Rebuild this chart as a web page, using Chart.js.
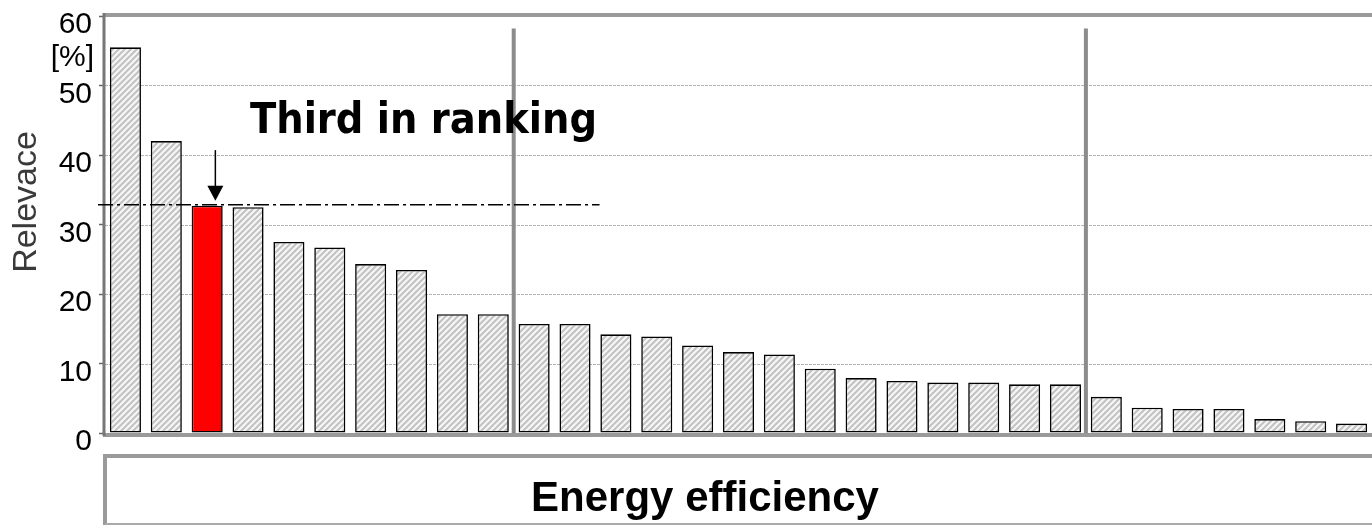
<!DOCTYPE html>
<html>
<head>
<meta charset="utf-8">
<script src="https://cdn.jsdelivr.net/npm/chart.js@4.4.1/dist/chart.umd.min.js"></script>
<style>
html,body{margin:0;padding:0;background:#fff;}
canvas{display:block;}
</style>
</head>
<body>
<canvas id="c" width="1372" height="525"></canvas>
<script>
// ---- data ----
const categories = Array.from({length: 31}, (_, i) => 'Item ' + (i + 1));
const relevance = [55.5, 42.0, 32.7, 32.5, 27.5, 26.7, 24.3, 23.45, 17.1, 17.1,
                   15.7, 15.7, 14.2, 13.9, 12.6, 11.65, 11.3, 9.25, 7.9, 7.5,
                   7.25, 7.25, 7.0, 7.0, 5.2, 3.65, 3.45, 3.45, 2.0, 1.7, 1.35];
const highlightIndex = 2;
const yTicks = [0, 10, 20, 30, 40, 50, 60];
const groupSeparators = [9.5, 23.5];   // boundaries between categories
const separatorTop = 58.2;
const refLineEndIndex = 11.6;
const annotationText = 'Third in ranking';
const yTitle = 'Relevace';
const yUnit = '[%]';
const groupLabel = 'Energy efficiency';

// hatched pattern
function makePattern() {
  const s = 6;
  const pc = document.createElement('canvas');
  pc.width = s; pc.height = s;
  const p = pc.getContext('2d');
  p.fillStyle = '#f6f6f6';
  p.fillRect(0, 0, s, s);
  p.strokeStyle = '#c2c2c2';
  p.lineWidth = 2;
  p.beginPath();
  p.moveTo(0, s); p.lineTo(s, 0);
  p.moveTo(-s/2, s/2); p.lineTo(s/2, -s/2);
  p.moveTo(s/2, s*1.5); p.lineTo(s*1.5, s/2);
  p.stroke();
  return document.getElementById('c').getContext('2d').createPattern(pc, 'repeat');
}
const hatch = makePattern();
const barColors = relevance.map((v, i) => i === highlightIndex ? '#ff0000' : hatch);

const decor = {
  id: 'decor',
  beforeDatasetsDraw(chart) {
    const {ctx, chartArea: a, scales: {x, y}} = chart;
    ctx.save();
    // dashed grid lines
    ctx.strokeStyle = '#b4b4b4';
    ctx.lineWidth = 1;
    ctx.setLineDash([3, 1]);
    yTicks.forEach(t => {
      if (t === 0 || t === 60) return;
      const py = Math.round(y.getPixelForValue(t)) + 0.5;
      ctx.beginPath(); ctx.moveTo(a.left, py); ctx.lineTo(a.right, py); ctx.stroke();
    });
    ctx.setLineDash([]);
    // group separators
    ctx.strokeStyle = '#8c8c8c';
    ctx.lineWidth = 4;
    groupSeparators.forEach(g => {
      const px = x.getPixelForValue(g);
      ctx.beginPath(); ctx.moveTo(px, y.getPixelForValue(separatorTop)); ctx.lineTo(px, y.getPixelForValue(0)); ctx.stroke();
    });
    // top border
    ctx.strokeStyle = '#9a9a9a';
    ctx.lineWidth = 4;
    ctx.beginPath(); ctx.moveTo(a.left - 2, a.top - 1); ctx.lineTo(a.right, a.top - 1); ctx.stroke();
    ctx.restore();
  },
  afterDatasetsDraw(chart) {
    const {ctx, chartArea: a, scales: {x, y}} = chart;
    ctx.save();
    const y0 = y.getPixelForValue(0);
    // bottom axis
    ctx.strokeStyle = '#9a9a9a';
    ctx.lineWidth = 4;
    ctx.beginPath(); ctx.moveTo(a.left - 2, y0 + 2); ctx.lineTo(a.right, y0 + 2); ctx.stroke();
    // left axis
    ctx.strokeStyle = '#777';
    ctx.lineWidth = 3;
    ctx.beginPath(); ctx.moveTo(a.left - 1, a.top - 3); ctx.lineTo(a.left - 1, y0 + 3); ctx.stroke();

    // reference dash-dot line at highlighted value
    const ry = y.getPixelForValue(relevance[highlightIndex]) - 1;
    ctx.strokeStyle = '#000';
    ctx.lineWidth = 1.5;
    ctx.setLineDash([15, 4, 3, 4]);
    ctx.beginPath(); ctx.moveTo(a.left - 7, ry); ctx.lineTo(x.getPixelForValue(refLineEndIndex), ry); ctx.stroke();
    ctx.setLineDash([]);

    // arrow
    const ax = x.getPixelForValue(highlightIndex + 0.2);
    const aTop = y.getPixelForValue(40.7);
    const aTip = ry - 4;
    ctx.lineWidth = 1.5;
    ctx.beginPath(); ctx.moveTo(ax, aTop); ctx.lineTo(ax, aTip - 14); ctx.stroke();
    ctx.fillStyle = '#000';
    ctx.beginPath(); ctx.moveTo(ax - 8, aTip - 15); ctx.lineTo(ax + 8, aTip - 15); ctx.lineTo(ax, aTip); ctx.closePath(); ctx.fill();

    // annotation text
    ctx.fillStyle = '#000';
    ctx.textBaseline = 'alphabetic';
    ctx.textAlign = 'left';
    let fs = 46;
    ctx.font = 'bold ' + fs + 'px "DejaVu Sans Condensed", "DejaVu Sans", sans-serif';
    const w = ctx.measureText(annotationText).width;
    fs = fs * 347 / w;
    ctx.font = 'bold ' + fs.toFixed(1) + 'px "DejaVu Sans Condensed", "DejaVu Sans", sans-serif';
    ctx.fillText(annotationText, 250, 133);

    // unit label
    ctx.font = '30px "Liberation Sans", Arial, sans-serif';
    ctx.textAlign = 'right';
    ctx.textBaseline = 'middle';
    ctx.fillText(yUnit, 94, 58);

    // y title
    ctx.save();
    ctx.translate(27, 202);
    ctx.rotate(-Math.PI / 2);
    ctx.textAlign = 'center';
    ctx.textBaseline = 'middle';
    ctx.fillStyle = '#3a3a3a';
    ctx.font = '34px "Liberation Sans", Arial, sans-serif';
    ctx.fillText(yTitle, 0, 0);
    ctx.restore();

    // group box
    ctx.strokeStyle = '#9a9a9a';
    ctx.lineWidth = 4;
    ctx.beginPath();
    ctx.moveTo(a.right, 456); ctx.lineTo(a.left, 456); ctx.lineTo(a.left, 525);
    ctx.stroke();
    ctx.strokeStyle = '#aaa';
    ctx.lineWidth = 2;
    ctx.beginPath(); ctx.moveTo(a.left, 524); ctx.lineTo(a.right, 524); ctx.stroke();
    ctx.fillStyle = '#000';
    ctx.font = 'bold 42px "Liberation Sans", Arial, sans-serif';
    ctx.textAlign = 'center';
    ctx.textBaseline = 'alphabetic';
    ctx.fillText(groupLabel, 705, 511);
    ctx.restore();
  }
};

new Chart(document.getElementById('c'), {
  type: 'bar',
  data: {
    labels: categories,
    datasets: [{
      data: relevance,
      backgroundColor: barColors,
      borderColor: '#000',
      borderWidth: 1.6,
      borderSkipped: false,
      barPercentage: 0.76,
      categoryPercentage: 1.0
    }]
  },
  options: {
    responsive: false,
    animation: false,
    devicePixelRatio: 1,
    layout: {padding: {top: 16, bottom: 92, left: 0, right: 0}},
    plugins: {legend: {display: false}, tooltip: {enabled: false}, title: {display: false}},
    scales: {
      x: {display: false, offset: true},
      y: {
        min: 0, max: 60,
        afterFit(scale) { scale.width = 105; scale.paddingTop = 0; scale.paddingBottom = 0; },
        afterBuildTicks(scale) { scale.ticks = yTicks.map(v => ({value: v})); },
        ticks: {
          color: '#000',
          font: {family: '"Liberation Sans", Arial, sans-serif', size: 30, lineHeight: 1},
          padding: 7,
          labelOffset: 9
        },
        grid: {drawOnChartArea: false, drawTicks: true, tickLength: 6, tickColor: '#666', tickWidth: 1.5},
        border: {display: false}
      }
    }
  },
  plugins: [decor]
});
</script>
</body>
</html>
